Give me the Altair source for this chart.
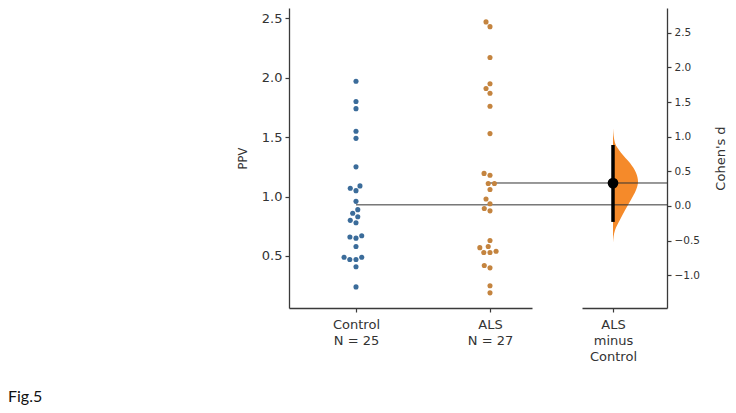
import altair as alt
import numpy as np
import pandas as pd

# ---------------- data ----------------
groups = ["Control", "ALS"]
control_ppv = [1.97, 1.80, 1.74, 1.55, 1.49, 1.25, 1.09, 1.07, 1.05, 0.96, 0.89, 0.86,
               0.83, 0.80, 0.78, 0.67, 0.66, 0.65, 0.58, 0.49, 0.49, 0.47, 0.47, 0.41, 0.24]
als_ppv = [2.47, 2.43, 2.17, 1.95, 1.91, 1.87, 1.76, 1.53, 1.195, 1.18, 1.11, 1.11, 1.06,
           0.98, 0.94, 0.90, 0.88, 0.63, 0.58, 0.57, 0.54, 0.53, 0.53, 0.42, 0.40, 0.25, 0.19]
delta_label = ["ALS", "minus", "Control"]
ppv_ticks = [0.5, 1.0, 1.5, 2.0, 2.5]
d_ticks = [-1.0, -0.5, 0.0, 0.5, 1.0, 1.5, 2.0, 2.5]
cohens_d = 0.33
ci_low, ci_high = -0.23, 0.88
violin_d = [1.12, 0.91, 0.77, 0.62, 0.48, 0.35, 0.23, 0.09, -0.06, -0.20, -0.35, -0.53]
violin_density = [0.0, 0.08, 0.32, 0.68, 0.92, 1.0, 0.92, 0.72, 0.48, 0.28, 0.08, 0.0]
caption = "Fig.5"

# ---------------- layout ----------------
H = 300
LW = 268
RW = 110
L_AXIS_END = 243
CAT_PX = [67, 201]
UNIT = CAT_PX[1] - CAT_PX[0]
R_AXIS = [25, 110]
R_CAT = 56
VIOLIN_PX = 25
y_dom = [0.0623, 2.587]
d_dom = [-1.472, 2.857]
px_per_unit = H / (y_dom[1] - y_dom[0])
DOT_D = 6.2

col_ctrl = "#3b6c9a"
col_als = "#c4843f"
col_violin = "#f58a2a"
line_col = "#333333"
FONT = "DejaVu Sans"


def swarm(values, diam):
    vals = np.asarray(values, dtype=float)
    order = np.argsort(vals, kind="stable")
    placed = []
    xs = np.zeros(len(vals))
    for i in order:
        y = vals[i] * px_per_unit
        cands = [0.0]
        for (px, py) in placed:
            dy = y - py
            if abs(dy) < diam:
                dx = (diam ** 2 - dy ** 2) ** 0.5
                cands += [px + dx, px - dx]
        cands.sort(key=lambda c: (abs(c), c))
        for c in cands:
            if all((c - px) ** 2 + (y - py) ** 2 >= diam ** 2 - 1e-6 for px, py in placed):
                xs[i] = c
                placed.append((c, y))
                break
    return xs


rows = []
for gi, (g, vals) in enumerate(zip(groups, [control_ppv, als_ppv])):
    offs = swarm(vals, DOT_D)
    for v, o in zip(vals, offs):
        rows.append({"group": g, "ppv": v, "x": gi + o / UNIT})
pts = pd.DataFrame(rows)

means = [float(np.mean(control_ppv)), float(np.mean(als_ppv))]
mean_df = pd.DataFrame({"group": groups, "mean": means,
                        "x": [0, 1], "x2": [(LW - CAT_PX[0]) / UNIT] * 2})

ns = [len(control_ppv), len(als_ppv)]
left_label_expr = "datum.value == 0 ? ['%s', 'N = %d'] : ['%s', 'N = %d']" % (
    groups[0], ns[0], groups[1], ns[1])
right_label_expr = "[" + ", ".join("'%s'" % s for s in delta_label) + "]"

xl_dom = [(0 - CAT_PX[0]) / UNIT, (L_AXIS_END - CAT_PX[0]) / UNIT]


def xL(field):
    return alt.X(f"{field}:Q",
                 scale=alt.Scale(domain=xl_dom, range=[0, L_AXIS_END], nice=False, zero=False),
                 axis=alt.Axis(values=[0, 1], labelExpr=left_label_expr, title=None,
                               labelFontSize=13, labelLineHeight=16, labelPadding=6,
                               labelFlush=False, labelOverlap=False))


def yL(field):
    return alt.Y(f"{field}:Q",
                 scale=alt.Scale(domain=y_dom, nice=False, zero=False),
                 axis=alt.Axis(values=ppv_ticks, format=".1f", title="PPV", titlePadding=13,
                               labelFontSize=13, titleFontSize=11.5, labelPadding=3))


mean_rules = alt.Chart(mean_df).mark_rule(color=line_col, strokeWidth=1).encode(
    x=xL("x"), x2=alt.X2("x2"), y=yL("mean"))

dots = alt.Chart(pts).mark_circle(size=26, opacity=1).encode(
    x=xL("x"), y=yL("ppv"),
    color=alt.Color("group:N", scale=alt.Scale(domain=groups, range=[col_ctrl, col_als]),
                    legend=None))

cap = alt.Chart(pd.DataFrame({"t": [caption]})).mark_text(
    align="left", baseline="middle", font="Lato", fontSize=16, color="#111111").encode(
    text="t:N", x=alt.value(8 - 289), y=alt.value(389))

left = alt.layer(mean_rules, dots, cap).properties(width=LW, height=H)

# ---------------- right (effect size) panel ----------------
xr_dom = [(R_AXIS[0] - R_CAT) / VIOLIN_PX, (R_AXIS[1] - R_CAT) / VIOLIN_PX]


def xR(field):
    return alt.X(f"{field}:Q", stack=None,
                 scale=alt.Scale(domain=xr_dom, range=R_AXIS, nice=False, zero=False),
                 axis=alt.Axis(values=[0], labelExpr=right_label_expr, title=None,
                               labelFontSize=13, labelLineHeight=16, labelPadding=6,
                               labelFlush=False, labelOverlap=False))


def yR(field):
    return alt.Y(f"{field}:Q",
                 scale=alt.Scale(domain=d_dom, nice=False, zero=False),
                 axis=alt.Axis(orient="right", values=d_ticks, format=".1f", title="Cohen's d",
                               titleAngle=270, titleBaseline="top", titlePadding=15,
                               labelFontSize=10.5, titleFontSize=13, labelPadding=3))


def to_d(v):
    return d_dom[0] + (v - y_dom[0]) / (y_dom[1] - y_dom[0]) * (d_dom[1] - d_dom[0])


vio_df = pd.DataFrame({"d": violin_d, "w": violin_density}).sort_values("d")
vio_df["w0"] = 0.0
violin = alt.Chart(vio_df).mark_area(orient="horizontal", color=col_violin, opacity=1,
                                     interpolate="monotone").encode(
    y=yR("d"), x=xR("w"), x2=alt.X2("w0"))

rline_df = pd.DataFrame({"d": [to_d(m) for m in means],
                         "x": [(0 - R_CAT) / VIOLIN_PX] * 2,
                         "x2": [(RW - R_CAT) / VIOLIN_PX] * 2})
rlines = alt.Chart(rline_df).mark_rule(color=line_col, strokeWidth=1).encode(
    x=xR("x"), x2=alt.X2("x2"), y=yR("d"))

ci_df = pd.DataFrame({"x": [0], "lo": [ci_low], "hi": [ci_high]})
ci_bar = alt.Chart(ci_df).mark_rule(color="black", strokeWidth=3.5).encode(
    x=xR("x"), y=yR("lo"), y2=alt.Y2("hi"))

pt_df = pd.DataFrame({"x": [0], "d": [cohens_d]})
eff_dot = alt.Chart(pt_df).mark_circle(color="black", size=115, opacity=1).encode(
    x=xR("x"), y=yR("d"))

right = alt.layer(violin, rlines, ci_bar, eff_dot).properties(width=RW, height=H)

chart = alt.hconcat(left, right, spacing=0, bounds="flush").properties(
    padding=0
).configure_view(stroke=None).configure_axis(
    grid=False, domainColor="#3a3a3a", domainWidth=1.3, tickColor="#3a3a3a",
    tickWidth=1.2, tickSize=4, labelColor="#333333", titleColor="#333333",
    labelFont=FONT, titleFont=FONT, titleFontWeight="normal")

chart.save("out.html", embed_options={"renderer": "svg", "actions": False})
